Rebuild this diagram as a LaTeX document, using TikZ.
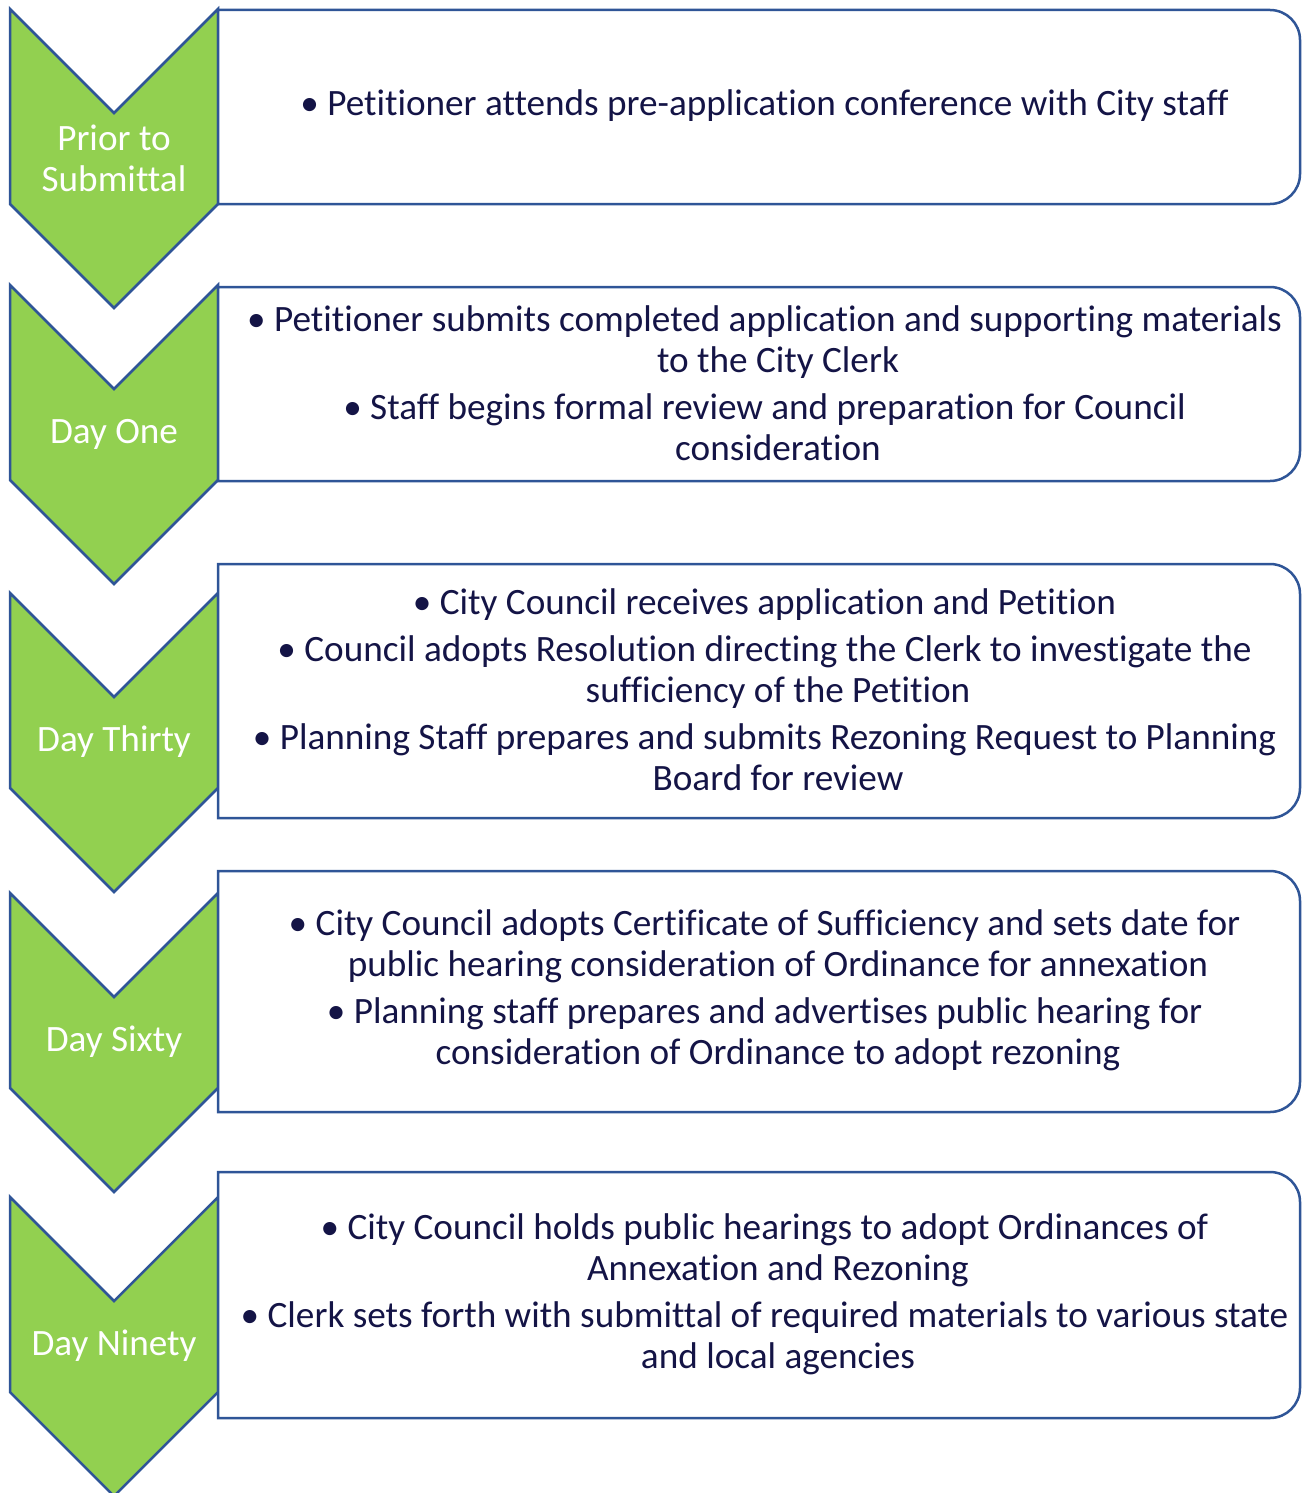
\documentclass[tikz,border=0pt]{standalone}
\usepackage{fontspec}
\setmainfont[Ligatures=NoCommon]{Carlito}
\definecolor{chevgreen}{RGB}{146,208,80}
\definecolor{edgeblue}{RGB}{47,85,151}
\definecolor{inknavy}{RGB}{20,20,70}
% bullet hangs left so the words stay centred
\newcommand{\bul}{\llap{\textbullet\ }}

\begin{document}
\begin{tikzpicture}[x=1pt,y=-1pt,
 chev/.style={draw=edgeblue,fill=chevgreen,line width=2.5pt},
 box/.style={draw=edgeblue,fill=white,line width=2.5pt},
 lbl/.style={text=white,align=center,font=\fontsize{37.2}{41}\selectfont},
 txt/.style={text=inknavy,align=center,font=\fontsize{37.2}{41}\selectfont}]
\useasboundingbox (0,0) rectangle (1302,1493);
% chevrons down the left side
\draw[chev] (10,9) -- ++(104,104) -- ++(104,-104) -- ++(0,195) -- ++(-104,104) -- ++(-104,-104) -- cycle;
\draw[chev] (10,285) -- ++(104,104) -- ++(104,-104) -- ++(0,195) -- ++(-104,104) -- ++(-104,-104) -- cycle;
\draw[chev] (10,593) -- ++(104,104) -- ++(104,-104) -- ++(0,195) -- ++(-104,104) -- ++(-104,-104) -- cycle;
\draw[chev] (10,893) -- ++(104,104) -- ++(104,-104) -- ++(0,195) -- ++(-104,104) -- ++(-104,-104) -- cycle;
\draw[chev] (10,1197) -- ++(104,104) -- ++(104,-104) -- ++(0,195) -- ++(-104,104) -- ++(-104,-104) -- cycle;
\node[lbl] (prior) at (114,158) {Prior to\\Submittal};
\node[lbl] (dayone) at (114,434) {Day One};
\node[lbl] (daythirty) at (114,742) {Day Thirty};
\node[lbl] (daysixty) at (114,1042) {Day Sixty};
\node[lbl] (dayninety) at (114,1346) {Day Ninety};
% step boxes, rounded on the right only
\draw[box] (218,10) [rounded corners=30pt] -- (1300,10) -- (1300,204) [sharp corners] -- (218,204) -- cycle;
\draw[box] (218,287) [rounded corners=30pt] -- (1300,287) -- (1300,481) [sharp corners] -- (218,481) -- cycle;
\draw[box] (218,564) [rounded corners=30pt] -- (1300,564) -- (1300,818) [sharp corners] -- (218,818) -- cycle;
\draw[box] (218,871) [rounded corners=30pt] -- (1300,871) -- (1300,1112) [sharp corners] -- (218,1112) -- cycle;
\draw[box] (218,1172) [rounded corners=30pt] -- (1300,1172) -- (1300,1418) [sharp corners] -- (218,1418) -- cycle;
\node[txt] (priortxt) at (778,106) {\bul Petitioner attends pre-application conference with City staff};
\node[txt] (dayonetxt) at (778,383) {\bul Petitioner submits completed application and supporting materials\\to the City Clerk\\[6pt]\bul Staff begins formal review and preparation for Council\\consideration};
\node[txt] (daythirtytxt) at (778,690) {\bul City Council receives application and Petition\\[6pt]\bul Council adopts Resolution directing the Clerk to investigate the\\sufficiency of the Petition\\[6pt]\bul Planning Staff prepares and submits Rezoning Request to Planning\\Board for review};
\node[txt] (daysixtytxt) at (778,990) {\bul City Council adopts Certificate of Sufficiency and sets date for\\public hearing consideration of Ordinance for annexation\\[6pt]\bul Planning staff prepares and advertises public hearing for\\consideration of Ordinance to adopt rezoning};
\node[txt] (dayninetytxt) at (778,1294) {\bul City Council holds public hearings to adopt Ordinances of\\Annexation and Rezoning\\[6pt]\bul Clerk sets forth with submittal of required materials to various state\\and local agencies};
\end{tikzpicture}
\end{document}
